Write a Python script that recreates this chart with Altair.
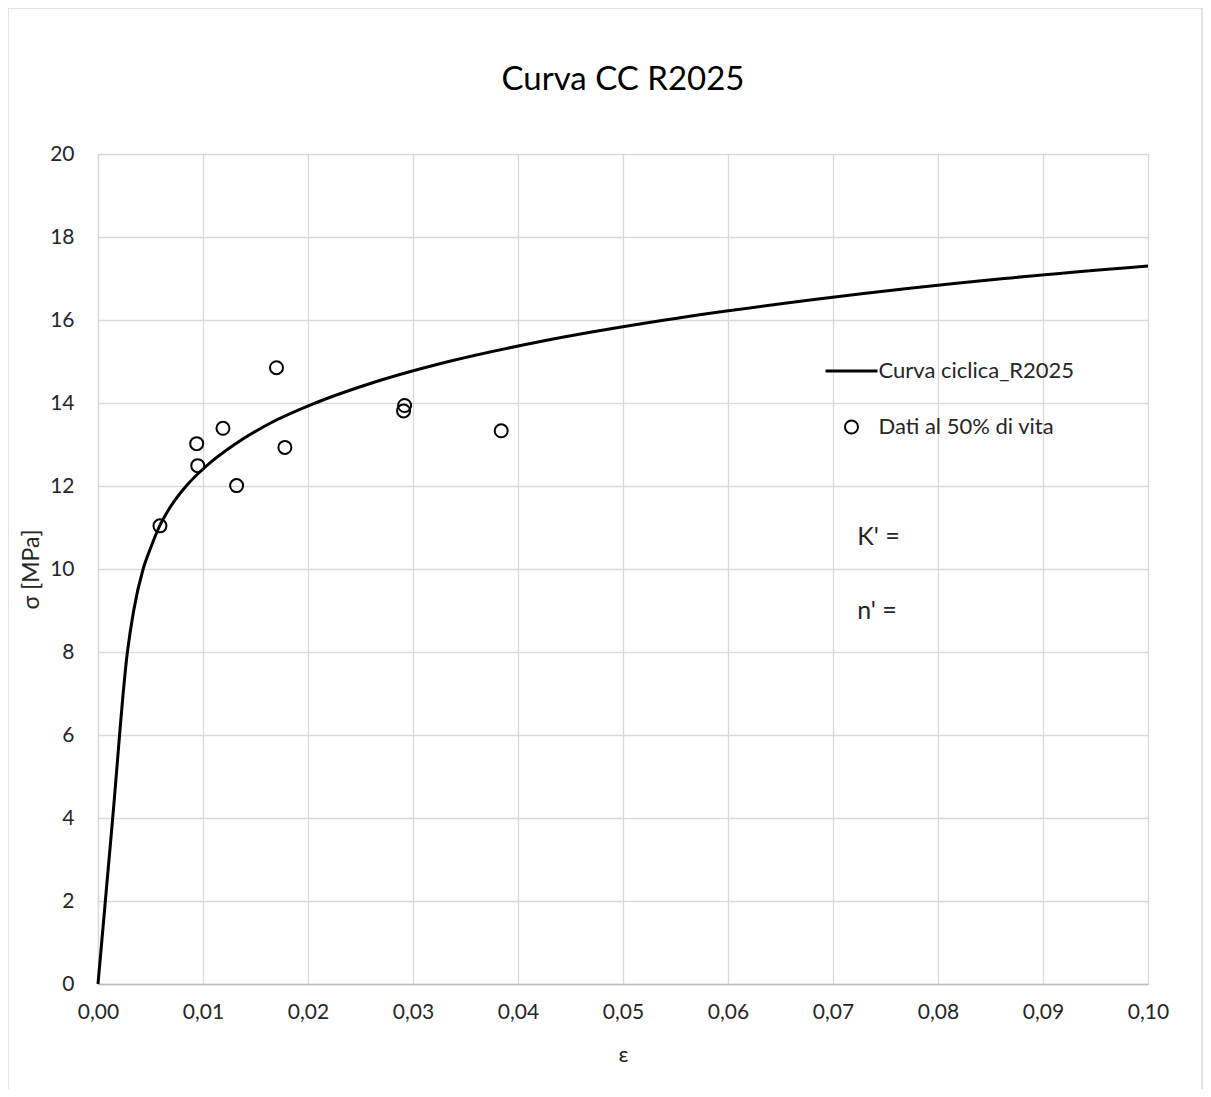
import altair as alt
import pandas as pd

# Cyclic curve
curve_eps = [0.0, 0.0014, 0.0028, 0.0034, 0.0043, 0.0050, 0.0058, 0.0069, 0.0084, 0.0104,
             0.0130, 0.0163, 0.0207, 0.0263, 0.0334, 0.0425, 0.0540, 0.0684, 0.0863, 0.1000]
curve_sigma = [0.0, 4.0, 8.0, 9.0, 10.0, 10.5, 11.0, 11.5, 12.0, 12.5,
               13.0, 13.5, 14.0, 14.5, 15.0, 15.5, 16.0, 16.5, 17.0, 17.3]

# Data at 50% life
pts_eps = [0.0059, 0.0094, 0.0095, 0.0119, 0.0132, 0.0170, 0.0178, 0.0292, 0.0291, 0.0384]
pts_sigma = [11.04, 13.02, 12.49, 13.39, 12.01, 14.85, 12.93, 13.94, 13.81, 13.33]

series_names = ["Curva ciclica_R2025", "Dati al 50% di vita"]

ann_text = ["K' =", "n' ="]
ann_x = [0.0723, 0.0723]
ann_y = [10.76, 9.0]

x_ticks = [0.0, 0.01, 0.02, 0.03, 0.04, 0.05, 0.06, 0.07, 0.08, 0.09, 0.10]
y_ticks = [0, 2, 4, 6, 8, 10, 12, 14, 16, 18, 20]

FONT = "Lato"
TXT = "#262626"

curve_df = pd.DataFrame({"eps": curve_eps, "sigma": curve_sigma, "series": series_names[0]})
pts_df = pd.DataFrame({"eps": pts_eps, "sigma": pts_sigma, "series": series_names[1]})
ann_df = pd.DataFrame({"t": ann_text, "x": ann_x, "y": ann_y})

W, H = 1050, 830

xscale = alt.Scale(domain=[0, 0.1], nice=False, zero=False)
yscale = alt.Scale(domain=[0, 20], nice=False)

xaxis = alt.Axis(values=x_ticks, title="ε",
                 labelExpr="replace(format(datum.value, '.2f'), '.', ',')",
                 labelFont=FONT, labelFontSize=21, labelColor=TXT, labelPadding=17,
                 labelFlush=False,
                 titleFont=FONT, titleFontSize=22, titleFontWeight="normal", titleColor=TXT,
                 titlePadding=22, ticks=False, grid=True, gridColor="#d9d9d9", gridWidth=1.3,
                 domainColor="#bfbfbf", domainWidth=1.3)
yaxis = alt.Axis(values=y_ticks, title="σ [MPa]", format="d",
                 labelFont=FONT, labelFontSize=21, labelColor=TXT, labelPadding=24,
                 titleFont=FONT, titleFontSize=23, titleFontWeight="normal", titleColor=TXT,
                 titlePadding=6, ticks=False, grid=True, gridColor="#d9d9d9", gridWidth=1.3,
                 domainColor="#d9d9d9", domainWidth=1.3)

color = alt.Color("series:N", scale=alt.Scale(domain=series_names, range=["black", "black"]),
                  legend=alt.Legend(title=None, orient="none", legendX=742.5, legendY=206,
                                    labelFont=FONT, labelFontSize=22, labelColor=TXT,
                                    labelOffset=16, labelLimit=500, symbolSize=169,
                                    rowPadding=34, padding=0, symbolStrokeColor="black"))
shape = alt.Shape("series:N", scale=alt.Scale(domain=series_names, range=["M-4,0L4,0", "circle"]))
sw = alt.StrokeWidth("series:N", scale=alt.Scale(domain=series_names, range=[3, 2]))

line = alt.Chart(curve_df).mark_line(interpolate="monotone").encode(
    x=alt.X("eps:Q", scale=xscale, axis=xaxis),
    y=alt.Y("sigma:Q", scale=yscale, axis=yaxis),
    color=color,
    strokeWidth=sw,
)

points = alt.Chart(pts_df).mark_point(filled=False, size=169, opacity=1).encode(
    x=alt.X("eps:Q", scale=xscale),
    y=alt.Y("sigma:Q", scale=yscale),
    color=color,
    shape=shape,
    strokeWidth=sw,
)

ann = alt.Chart(ann_df).mark_text(align="left", baseline="middle", font=FONT,
                                  fontSize=25, color=TXT).encode(
    x=alt.X("x:Q", scale=xscale),
    y=alt.Y("y:Q", scale=yscale),
    text="t:N",
)

border = alt.Chart(pd.DataFrame({"a": [0]})).mark_rect(
    fill="transparent", stroke="#d9d9d9", strokeWidth=1.5).encode(
    x=alt.value(-90), x2=alt.value(1104), y=alt.value(-146), y2=alt.value(970))

chart = alt.layer(border, line, points, ann).properties(
    width=W, height=H,
    title=alt.TitleParams("Curva CC R2025", font=FONT, fontSize=33, fontWeight="normal",
                          color="black", anchor="middle", offset=-90, frame="group"),
    autosize=alt.AutoSizeParams(type="none"),
    padding={"left": 90, "top": 146, "right": 55, "bottom": 105},
).configure_view(strokeWidth=0).resolve_scale(color="shared")

chart.save("out.html", embed_options={"renderer": "svg", "actions": False})
